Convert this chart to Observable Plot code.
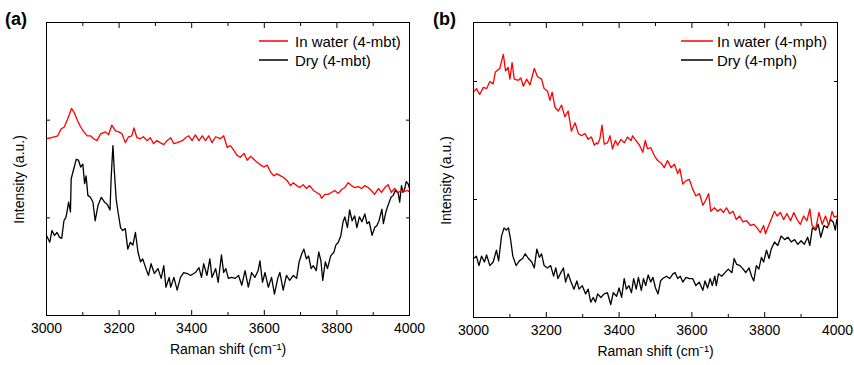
<!DOCTYPE html>
<html>
<head>
<meta charset="utf-8">
<script src="https://cdn.jsdelivr.net/npm/d3@7"></script>
<script src="https://cdn.jsdelivr.net/npm/@observablehq/plot@0.6"></script>
<style>
  html, body { margin: 0; padding: 0; background: #fff; }
  #wrap { position: relative; width: 854px; height: 365px; overflow: hidden; font-family: 'Liberation Sans', Arial, sans-serif; }
  #pa, #pb { position: absolute; top: 0; }
  #pa { left: 0; }
  #pb { left: 427px; }
  #overlay { position: absolute; left: 0; top: 0; pointer-events: none; }
</style>
</head>
<body>
<div id="wrap">
  <div id="pa"></div>
  <div id="pb"></div>
  <svg id="overlay" width="854" height="365"></svg>
</div>
<script>
// ---------- data (Raman shift in cm-1, intensity in arbitrary units) ----------
const xMajor = [3000, 3200, 3400, 3600, 3800, 4000];
const xMinor = [3100, 3300, 3500, 3700, 3900];
const yTicks = [100, 200];
const xLabel = "Raman shift (cm\u207B\u00B9)";
const yLabel = "Intensity (a.u.)";
const panelLabels = ["(a)", "(b)"];
const legendA = ["In water (4-mbt)", "Dry (4-mbt)"];
const legendB = ["In water (4-mph)", "Dry (4-mph)"];

// Panel (a) In water (4-mbt)
const aWaterX = [3000,3013,3022,3031,3040,3049,3058,3069,3076,3085,3094,3103,3112,3121,3130,3139,3149,3162,3171,3180,3190,3199,3208,3217,3226,3235,3241,3249,3258,3267,3277,3286,3295,3304,3313,3323,3332,3342,3351,3360,3374,3383,3392,3401,3410,3420,3429,3438,3447,3456,3466,3479,3488,3498,3507,3516,3525,3534,3544,3553,3562,3571,3580,3590,3599,3608,3617,3626,3635,3645,3654,3663,3672,3680,3689,3698,3707,3716,3725,3735,3744,3753,3758,3767,3776,3785,3794,3804,3813,3822,3831,3840,3849,3859,3868,3877,3886,3895,3904,3914,3923,3932,3941,3950,3959,3969,3978,3987,3996,4000];
const aWaterY = [181,182,183,184,191,193,201,212,208,200,193,188,184,184,181,179,186,188,185,195,189,188,186,177,183,184,192,182,181,183,179,182,176,179,177,175,179,182,176,177,179,182,184,179,185,179,184,179,184,177,183,181,184,172,174,169,164,162,166,159,163,160,157,154,152,154,147,143,145,143,141,138,133,136,133,131,134,130,133,128,126,124,120,124,124,126,128,125,129,131,136,133,131,132,130,133,131,128,124,130,126,131,134,126,130,126,128,127,128,126];

// Panel (a) Dry (4-mbt)
const aDryX = [3000,3009,3015,3022,3029,3036,3042,3048,3054,3061,3066,3068,3075,3082,3088,3094,3100,3105,3109,3114,3121,3128,3134,3142,3151,3160,3167,3175,3178,3183,3187,3192,3197,3204,3210,3217,3224,3231,3238,3245,3252,3259,3265,3274,3281,3288,3297,3307,3316,3323,3329,3338,3342,3351,3360,3369,3378,3388,3397,3410,3420,3427,3433,3442,3450,3456,3466,3473,3482,3488,3494,3501,3510,3520,3529,3538,3547,3556,3565,3574,3583,3588,3595,3602,3611,3620,3628,3637,3643,3652,3661,3670,3680,3689,3696,3703,3709,3716,3722,3729,3735,3743,3750,3756,3761,3768,3774,3783,3792,3797,3804,3811,3817,3822,3829,3835,3842,3849,3855,3862,3869,3877,3883,3889,3897,3904,3910,3916,3924,3928,3935,3942,3949,3955,3961,3969,3973,3978,3982,3987,3991,3996,4000];
const aDryY = [82,75,87,82,85,80,79,97,101,116,106,140,150,160,159,152,155,135,143,123,121,116,97,113,121,116,114,108,140,174,147,119,106,90,87,89,68,75,72,85,65,55,58,48,41,53,43,48,38,51,29,39,29,39,26,39,44,43,41,44,49,39,53,41,58,39,48,34,62,44,48,38,39,38,41,31,46,29,44,39,46,56,34,44,29,39,22,38,44,26,41,36,41,38,55,63,68,58,61,48,51,46,65,56,36,55,48,61,65,72,75,82,96,101,90,108,97,102,90,101,96,104,94,96,82,90,92,97,109,94,106,114,121,123,128,125,116,133,126,130,137,135,130];

// Panel (b) In water (4-mph)
const bWaterX = [3000,3008,3017,3027,3036,3045,3054,3060,3072,3082,3088,3095,3100,3106,3112,3123,3130,3137,3146,3155,3167,3176,3187,3194,3203,3210,3216,3224,3233,3242,3251,3260,3269,3279,3288,3297,3306,3315,3324,3332,3338,3341,3347,3353,3359,3368,3375,3382,3390,3396,3405,3414,3423,3433,3437,3446,3456,3465,3472,3478,3487,3497,3506,3515,3524,3533,3543,3552,3561,3567,3575,3584,3593,3602,3611,3621,3630,3639,3646,3652,3662,3671,3678,3687,3695,3704,3713,3722,3731,3740,3750,3761,3770,3779,3788,3797,3802,3811,3820,3827,3834,3843,3852,3861,3871,3880,3889,3898,3907,3916,3924,3930,3940,3949,3958,3967,3976,3985,3991,3998,4000];
const bWaterY = [191,194,189,195,194,200,198,208,211,223,209,212,202,216,202,201,203,196,202,197,211,204,202,194,192,184,191,178,175,180,170,175,158,165,156,154,156,151,153,146,148,147,151,163,147,148,154,143,150,146,151,148,153,150,154,150,146,140,150,143,144,137,133,131,127,133,127,130,122,126,113,116,117,109,103,105,95,100,105,90,93,90,92,89,93,88,90,83,86,81,82,78,79,76,72,78,71,78,85,90,86,89,83,88,82,89,83,79,86,82,92,78,75,89,79,86,78,90,85,86,84];

// Panel (b) Dry (4-mph)
const bDryX = [3000,3008,3015,3022,3030,3036,3045,3054,3063,3069,3077,3084,3090,3096,3102,3108,3117,3126,3135,3142,3151,3160,3167,3174,3181,3187,3194,3203,3212,3220,3226,3232,3240,3247,3253,3260,3267,3276,3284,3290,3299,3308,3315,3322,3329,3335,3341,3350,3359,3368,3377,3384,3393,3400,3407,3414,3420,3427,3434,3440,3447,3453,3461,3467,3473,3480,3487,3493,3500,3507,3514,3520,3530,3539,3548,3554,3561,3568,3575,3584,3593,3602,3611,3620,3630,3636,3643,3650,3656,3663,3667,3673,3682,3691,3700,3710,3716,3723,3732,3741,3748,3757,3764,3770,3777,3784,3791,3797,3805,3812,3818,3827,3836,3845,3855,3864,3873,3882,3891,3900,3909,3918,3924,3931,3940,3947,3954,3963,3972,3981,3988,3994,3998,4000];
const bDryY = [50,52,44,52,47,53,44,47,57,48,69,76,74,76,66,52,44,48,50,54,50,47,42,58,51,54,44,42,44,35,42,33,38,42,30,37,31,24,31,24,27,20,24,13,17,13,20,17,20,21,11,21,18,25,17,33,24,27,21,33,24,34,23,33,27,36,30,34,25,20,31,33,35,33,37,38,33,35,30,34,33,33,27,30,23,31,25,33,27,35,27,37,35,38,41,38,50,45,44,41,38,42,35,31,44,41,51,47,57,50,58,64,61,69,66,68,64,66,62,65,62,68,61,76,74,79,68,78,76,83,81,74,83,80];

// ---------- drawing ----------
const zip = (xs, ys) => xs.map((x, i) => ({x, y: ys[i]}));
const FONT = "'Liberation Sans', Arial, sans-serif";

function panel(waterX, waterY, dryX, dryY, yMax, mr, mb) {
  const water = zip(waterX, waterY);
  const dry = zip(dryX, dryY);
  return Plot.plot({
    width: 427,
    height: 365,
    marginLeft: 46,
    marginRight: mr,
    marginTop: 22,
    marginBottom: mb,
    style: {fontFamily: FONT, fontSize: "14px", color: "#000", background: "transparent", overflow: "visible"},
    x: {domain: [3000, 4000]},
    y: {domain: [0, yMax]},
    marks: [
      Plot.line(dry, {x: "x", y: "y", stroke: "#000", strokeWidth: 1.3}),
      Plot.line(water, {x: "x", y: "y", stroke: "#ff0000", strokeWidth: 1.3}),
      Plot.frame({stroke: "#000", strokeWidth: 1}),
      Plot.axisX({ticks: xMajor, anchor: "bottom", tickSize: -5, text: null, label: null}),
      Plot.axisX({ticks: xMinor, anchor: "bottom", tickSize: -3, text: null, label: null}),
      Plot.axisX({ticks: xMajor, anchor: "top", tickSize: -5, text: null, label: null}),
      Plot.axisX({ticks: xMinor, anchor: "top", tickSize: -3, text: null, label: null}),
      Plot.axisX({ticks: xMajor, anchor: "bottom", tickSize: 0, tickPadding: 8, tickFormat: d => String(d), label: null, fontSize: 14}),
      Plot.axisY({ticks: yTicks, anchor: "left", tickSize: -4, text: null, label: null}),
      Plot.axisY({ticks: yTicks, anchor: "right", tickSize: -4, text: null, label: null}),
      Plot.text([xLabel], {frameAnchor: "bottom", dy: 38.5, text: d => d, fontSize: 14}),
      Plot.text([yLabel], {frameAnchor: "left", rotate: -90, textAnchor: "middle", dx: -27, dy: 10.5, text: d => d, fontSize: 14})
    ]
  });
}

document.getElementById("pa").appendChild(panel(aWaterX, aWaterY, aDryX, aDryY, 300, 18, 50));
document.getElementById("pb").appendChild(panel(bWaterX, bWaterY, bDryX, bDryY, 250, 17, 48));

// panel labels and legends (overlay)
const ov = d3.select("#overlay");
ov.append("text").attr("x", 5).attr("y", 25).attr("font-size", 18).attr("font-weight", "bold")
  .attr("font-family", FONT).text(panelLabels[0]);
ov.append("text").attr("x", 433).attr("y", 25).attr("font-size", 18).attr("font-weight", "bold")
  .attr("font-family", FONT).text(panelLabels[1]);

function legend(items, x1, x2, tx) {
  const colors = ["#ff0000", "#000"];
  const ys = [41, 60];
  items.forEach((t, i) => {
    ov.append("line").attr("x1", x1).attr("x2", x2).attr("y1", ys[i]).attr("y2", ys[i])
      .attr("stroke", colors[i]).attr("stroke-width", 1.5);
    ov.append("text").attr("x", tx).attr("y", ys[i] + 5.5).attr("font-size", 15)
      .attr("font-family", FONT).text(t);
  });
}
legend(legendA, 259, 288, 295);
legend(legendB, 681, 713, 717);
</script>
</body>
</html>
